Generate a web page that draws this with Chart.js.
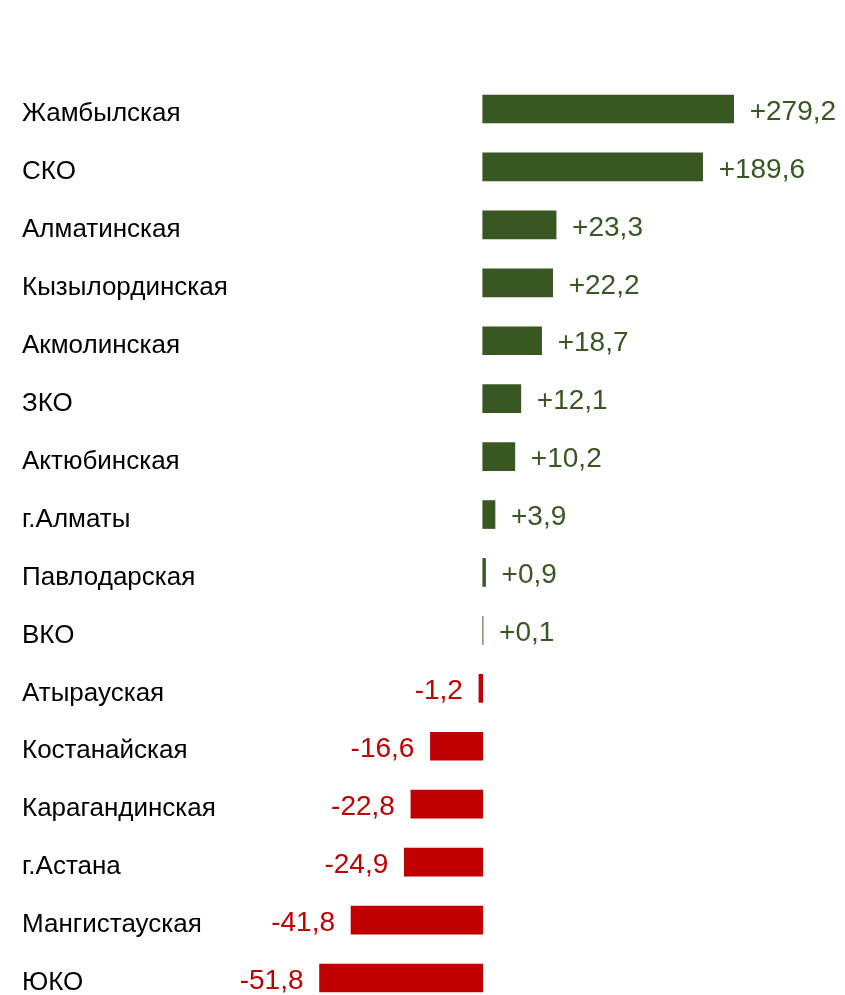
<!DOCTYPE html>
<html>
<head>
<meta charset="utf-8">
<script src="https://cdn.jsdelivr.net/npm/chart.js@4.4.1/dist/chart.umd.min.js"></script>
<style>
  html, body { margin: 0; padding: 0; background: #fff; }
  #wrap { width: 845px; height: 995px; }
</style>
</head>
<body>
<div id="wrap"><canvas id="regions"></canvas></div>
<script>
const regions = [
  'Жамбылская', 'СКО', 'Алматинская', 'Кызылординская', 'Акмолинская',
  'ЗКО', 'Актюбинская', 'г.Алматы', 'Павлодарская', 'ВКО',
  'Атырауская', 'Костанайская', 'Карагандинская', 'г.Астана', 'Мангистауская', 'ЮКО'
];
const changes = [
  279.2, 189.6, 23.3, 22.2, 18.7,
  12.1, 10.2, 3.9, 0.9, 0.1,
  -1.2, -16.6, -22.8, -24.9, -41.8, -51.8
];

const GREEN = '#385723';
const RED = '#c00000';
const FONT = '"Liberation Sans", Arial, sans-serif';

// the axis is broken above 55 so the two long bars fit on the page
const BREAK = 55;
const SQUEEZE = 0.11;
function squash(v) {
  const a = Math.abs(v);
  return a <= BREAK ? v : Math.sign(v) * (BREAK + (a - BREAK) * SQUEEZE);
}
function unsquash(v) {
  const a = Math.abs(v);
  return a <= BREAK ? v : Math.sign(v) * (BREAK + (a - BREAK) / SQUEEZE);
}

class BrokenScale extends Chart.LinearScale {
  static id = 'broken';
  getPixelForValue(value) {
    return value === null ? NaN : super.getPixelForValue(squash(value));
  }
  getValueForPixel(pixel) {
    return unsquash(super.getValueForPixel(pixel));
  }
}
Chart.register(BrokenScale);

function fmt(v) {
  return (v > 0 ? '+' : '') + v.toFixed(1).replace('.', ',');
}

const valueLabels = {
  id: 'valueLabels',
  afterDatasetsDraw(chart) {
    const ctx = chart.ctx;
    const meta = chart.getDatasetMeta(0);
    ctx.save();
    ctx.font = '28px ' + FONT;
    ctx.textBaseline = 'middle';
    meta.data.forEach((bar, i) => {
      const v = changes[i];
      const up = v >= 0;
      ctx.fillStyle = up ? GREEN : RED;
      ctx.textAlign = up ? 'left' : 'right';
      ctx.fillText(fmt(v), bar.x + (up ? 16 : -16), bar.y + 3);
    });
    ctx.restore();
  }
};

new Chart(document.getElementById('regions'), {
  type: 'bar',
  data: {
    labels: regions,
    datasets: [{
      data: changes,
      backgroundColor: (c) => (c.raw >= 0 ? GREEN : RED),
      borderWidth: 0,
      barThickness: 28,
      clip: false
    }]
  },
  options: {
    indexAxis: 'y',
    responsive: true,
    maintainAspectRatio: false,
    animation: false,
    layout: { padding: { left: 22, top: 109, right: 0, bottom: 17 } },
    plugins: {
      legend: { display: false },
      tooltip: { enabled: false }
    },
    scales: {
      x: {
        type: 'broken',
        display: false,
        min: -78,
        max: 115
      },
      y: {
        offset: false,
        grid: { display: false },
        border: { display: false },
        afterFit: (s) => { s.width = 215; },
        ticks: {
          autoSkip: false,
          crossAlign: 'far',
          padding: 0,
          labelOffset: 5,
          color: '#000',
          font: { family: FONT, size: 26 }
        }
      }
    }
  },
  plugins: [valueLabels]
});
</script>
</body>
</html>
